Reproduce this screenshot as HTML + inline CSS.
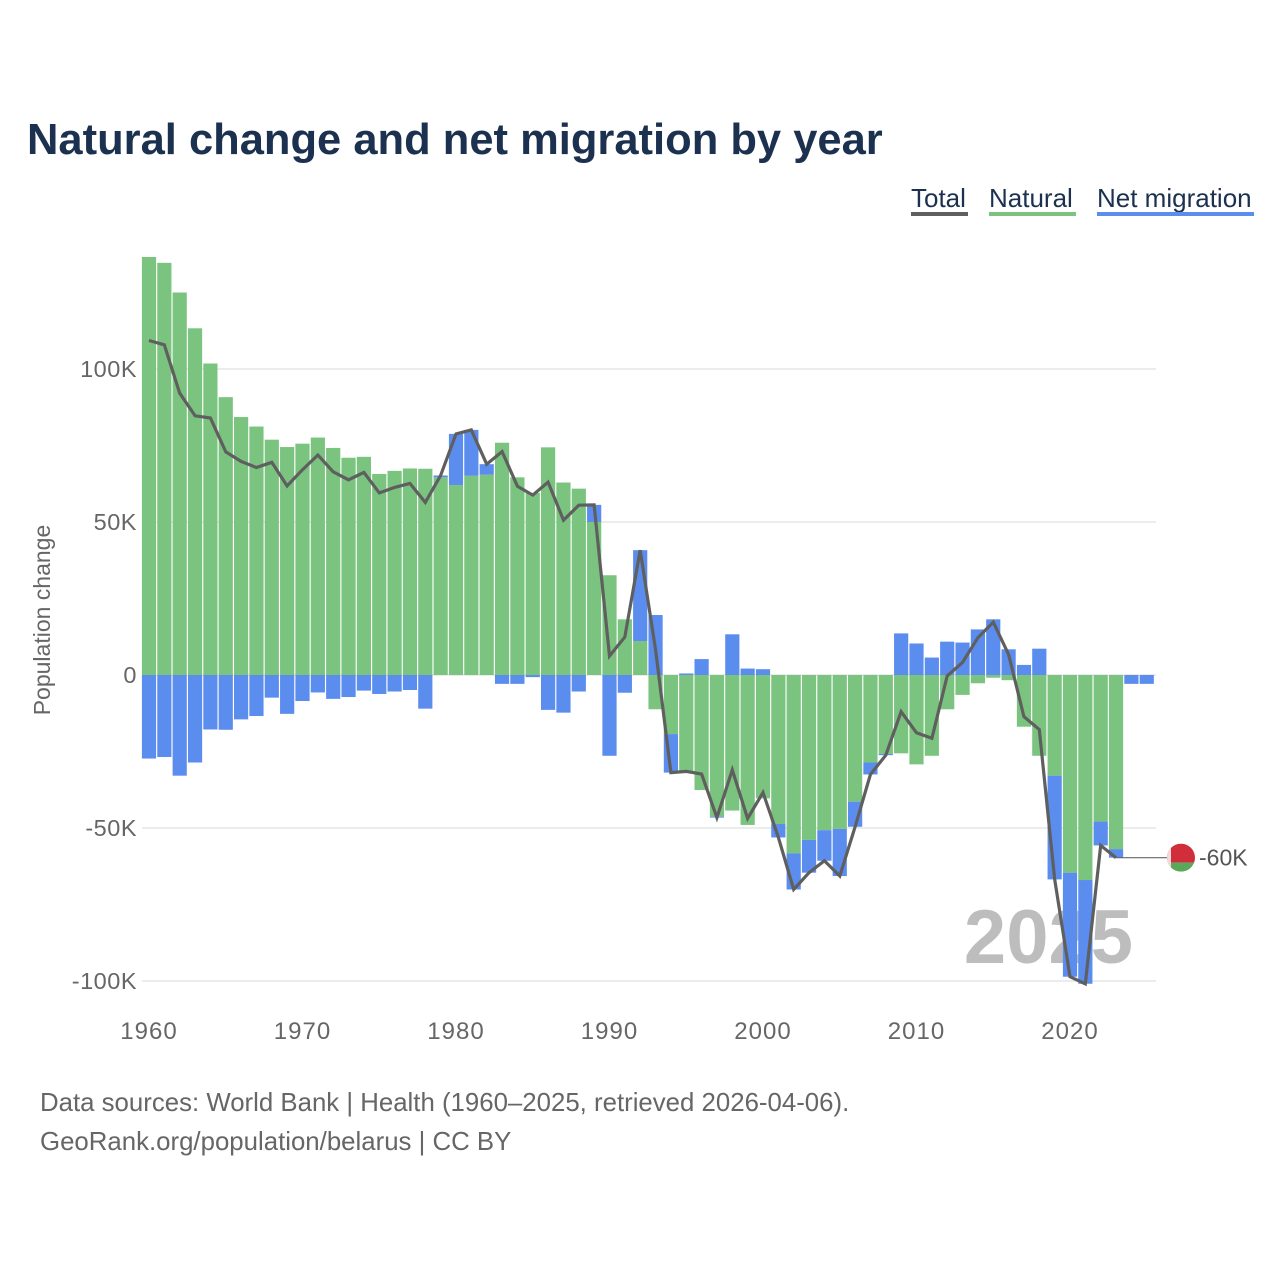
<!DOCTYPE html>
<html><head><meta charset="utf-8">
<style>
html,body{margin:0;padding:0;background:#fff;}
body{width:1280px;height:1280px;overflow:hidden;font-family:"Liberation Sans",sans-serif;}
</style></head>
<body>
<svg id="chart" width="1280" height="1280" viewBox="0 0 1280 1280" xmlns="http://www.w3.org/2000/svg" font-family="Liberation Sans, sans-serif">
  <text x="27" y="154" font-size="43.5" font-weight="bold" fill="#1c3150">Natural change and net migration by year</text>
  <g font-size="26" fill="#1c3150">
    <g><text x="911" y="207">Total</text><rect x="911" y="212" width="57" height="4" fill="#5f5f5f"/></g>
    <g><text x="989" y="207">Natural</text><rect x="989" y="212" width="87" height="4" fill="#7bc47f"/></g>
    <g><text x="1097" y="207">Net migration</text><rect x="1097" y="212" width="157" height="4" fill="#5b8def"/></g>
  </g>
  <text transform="translate(50,620) rotate(-90)" text-anchor="middle" font-size="23" fill="#666">Population change</text>
  <g id="grid"></g>
  <text x="1133" y="963" text-anchor="end" font-size="76" font-weight="bold" fill="#bdbdbd">2025</text>
  <g id="bars"></g>
  <g id="line"></g>
  <g id="xaxis"></g>
  <g id="endlabel"></g>
  <text x="40" y="1111" font-size="25.8" fill="#666">Data sources: World Bank | Health (1960–2025, retrieved 2026-04-06).</text>
  <text x="40" y="1150" font-size="25.8" fill="#666">GeoRank.org/population/belarus | CC BY</text>
</svg>
<script>
const years = [];
for (let y = 1960; y <= 2025; y++) years.push(y);
const natural = [136.6,134.7,125,113.3,101.8,90.8,84.3,81.2,76.9,74.5,
75.6,77.6,74.2,71,71.3,65.7,66.7,67.5,67.4,64.6,
62.1,65.1,65.5,75.9,64.6,59.5,74.4,62.9,60.9,50,
32.6,18.2,11.1,-11.2,-19.3,-32,-37.6,-46.3,-44.3,-49,
-40.3,-48.7,-58.3,-53.9,-50.7,-50.3,-41.4,-28.6,-25.8,-25.6,
-29.2,-26.4,-11.2,-6.5,-2.7,-0.9,-1.7,-16.9,-26.4,-32.9,
-64.6,-67,-47.9,-56.9,null,null];
const migration = [-27.3,-26.8,-32.9,-28.6,-17.8,-17.9,-14.5,-13.4,-7.4,-12.7,
-8.5,-5.7,-7.8,-7.2,-5.1,-6.2,-5.4,-4.9,-11,0.6,
16.7,15,3.4,-2.9,-2.9,-0.7,-11.4,-12.3,-5.4,5.6,
-26.4,-5.8,29.7,19.6,-12.6,0.5,5.2,-0.3,13.3,2.1,
1.9,-4.4,-11.8,-10.7,-10,-15.4,-8.2,-3.9,-0.4,13.6,
10.3,5.7,10.9,10.6,14.9,18.2,8.4,3.3,8.6,-33.9,
-34,-33.9,-7.8,-2.8,-2.9,-2.9];
const yTicks = [100,50,0,-50,-100];
const yTickLabels = ["100K","50K","0","-50K","-100K"];
const xTicks = [1960,1970,1980,1990,2000,2010,2020];

const NS = "http://www.w3.org/2000/svg";
const X = yr => 149 + (yr - 1960) * 15.35;
const Y = v => 675 - v * 3.06;
function mk(tag, attrs, parent){const e=document.createElementNS(NS,tag);for(const k in attrs)e.setAttribute(k,attrs[k]);parent.appendChild(e);return e;}

const grid = document.getElementById('grid');
yTicks.forEach((t,i)=>{
  const g = mk('line',{x1:142,x2:1156,y1:Y(t),y2:Y(t),stroke:'#e6e6e6','stroke-width':1.5},grid);
  
  
  const l = mk('text',{x:137,y:Y(t)+8,'text-anchor':'end','font-size':23.5,'letter-spacing':0.5,fill:'#666'},grid);
  
  
  l.textContent = yTickLabels[i];
});

const xa = document.getElementById('xaxis');
xTicks.forEach(t=>{
  const l = mk('text',{x:X(t),y:1039,'text-anchor':'middle','font-size':24,'letter-spacing':1,fill:'#666'},xa);
  
  
  l.textContent = t;
});

const bars = document.getElementById('bars');
const bw = 14.2;
years.forEach((yr,i)=>{
  let pos = 0, neg = 0;
  const parts = [[natural[i],'#7bc47f','bar-natural'],[migration[i],'#5b8def','bar-migration']];
  parts.forEach(p=>{
    const v = p[0]; if (v === null || v === undefined) return;
    let y0, y1;
    if (v >= 0){y0 = pos; y1 = pos + v; pos = y1;} else {y0 = neg; y1 = neg + v; neg = y1;}
    const top = Math.min(Y(y0),Y(y1)), h = Math.abs(Y(y1)-Y(y0));
    const r = mk('rect',{x:X(yr)-bw/2,y:top,width:bw,height:h,fill:p[1]},bars);
    
    
  });
});

const lineG = document.getElementById('line');
let d = '';
let lastX = 0, lastY = 0;
years.forEach((yr,i)=>{
  if (natural[i] === null) return;
  const t = natural[i] + migration[i];
  lastX = X(yr); lastY = Y(t);
  d += (d ? 'L' : 'M') + lastX.toFixed(1) + ',' + lastY.toFixed(1);
});
const path = mk('path',{d:d,fill:'none',stroke:'#5f5f5f','stroke-width':3.2,'stroke-linejoin':'miter'},lineG);



const el = document.getElementById('endlabel');
const conn = mk('line',{x1:lastX,y1:lastY,x2:1167,y2:lastY,stroke:'#666','stroke-width':1.2},el);


const flag = mk('g',{},el);


const clip = mk('clipPath',{id:'fc'},flag);
mk('circle',{cx:1181,cy:lastY,r:14},clip);
const fg = mk('g',{'clip-path':'url(#fc)'},flag);
mk('rect',{x:1167,y:lastY-14,width:28,height:19,fill:'#cf2e3a'},fg);
mk('rect',{x:1167,y:lastY+5,width:28,height:9,fill:'#5aa85a'},fg);
mk('rect',{x:1167,y:lastY-14,width:4,height:28,fill:'#f3dada'},fg);
const lbl = mk('text',{x:1199,y:lastY+8,'font-size':23,fill:'#555'},el);


lbl.textContent = Math.round(natural[63]+migration[63]) + 'K';
</script>
</body></html>
